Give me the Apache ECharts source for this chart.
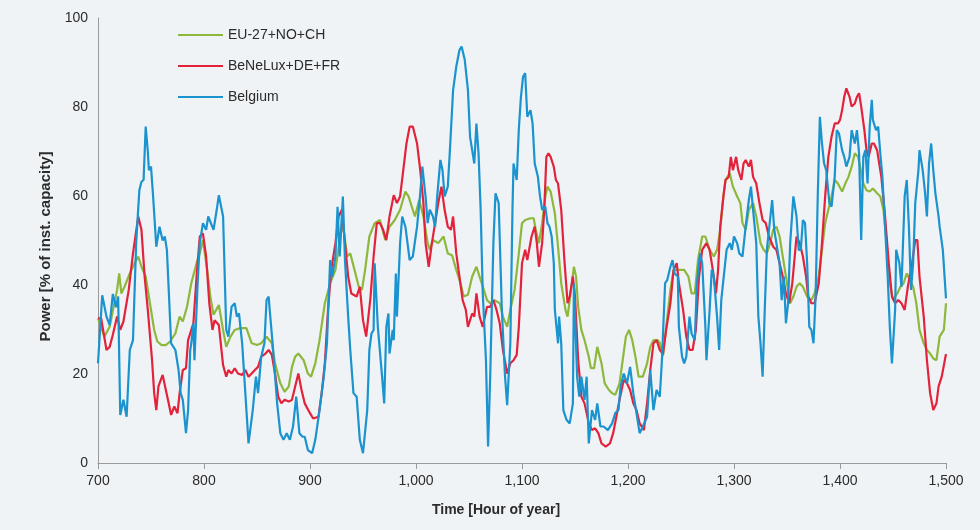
<!DOCTYPE html>
<html>
<head>
<meta charset="utf-8">
<title>Power output, hours 700-1500</title>
<script src="https://cdn.jsdelivr.net/npm/echarts@6/dist/echarts.min.js"></script>
<style>
  html, body { margin: 0; padding: 0; background: #eff3f6; }
  #chart { width: 980px; height: 530px; }
</style>
</head>
<body>
<div id="chart"></div>
<script>
// Hour-of-year tick positions on the time axis
const hourTicks = [700, 800, 900, 1000, 1100, 1200, 1300, 1400, 1500];

// EU-27+NO+CH
const euHours = [700,706,711,716,718,720,722,725,730,735,738,741,745,749,753,756,760,764,768,773,777,780,784,788,793,796,799,803,806,809,814,818,821,
  825,829,834,840,845,850,854,859,864,867,872,876,880,883,886,889,894,898,901,905,909,914,919,924,928,931,935,938,942,946,949,952,956,
  961,966,971,975,980,985,990,993,996,999,1003,1007,1011,1013,1016,1021,1026,1030,1034,1038,1042,1045,1049,1053,1057,1060,1064,1067,1070,1074,1079,1082,1086,1089,1093,
  1097,1100,1103,1108,1111,1113,1116,1119,1122,1124,1127,1131,1134,1137,1141,1143,1145,1149,1151,1153,1156,1159,1163,1165,1168,1171,1175,1178,1182,1185,1188,1192,1195,1198,1201,1204,1207,1210,1214,1218,1221,1224,1228,
  1230,1233,1236,1240,1243,1248,1253,1257,1260,1263,1266,1270,1273,1277,1281,1284,1287,1290,1292,1296,1299,1303,1306,1308,1311,1314,1318,1321,1325,1328,1331,1334,1337,1340,1343,1347,1350,1353,1356,1359,1362,1365,1369,
  1373,1376,1380,1383,1386,1389,1392,1395,1398,1402,1405,1408,1411,1414,1417,1419,1422,1425,1428,1431,1435,1438,1441,1444,1447,1450,1454,1457,1460,1463,1466,1469,1472,1475,1479,1482,1485,1488,1491,1494,1498,1500];
const euPower = [32.5,28.4,30.6,36.6,38.9,42.6,38.1,39.6,42.6,45.2,46.4,44.1,41.9,35.9,29.9,27.3,26.5,26.5,27.3,29.1,32.9,31.8,35.1,40.4,44.9,47.1,50.1,43.4,37.4,33.3,35.5,29.9,26.1,
  28.4,29.9,30.3,30.3,26.9,26.5,26.9,28.4,26.9,22.4,17.9,16,17.2,21.6,23.9,24.6,23.1,20.1,19.4,22.4,27.6,35.9,40.4,43.4,50.1,53.9,46.4,47.1,43.4,39.6,38.9,43.4,50.9,
  53.9,54.6,50.1,53.1,54.6,56.9,61,59.9,57.6,55.4,59.1,55.4,49.4,47.9,50.1,49.4,50.9,47.1,46.7,43.4,40.4,37.4,37.8,41.9,44.1,41.9,38.9,36.6,35.9,36.6,35.9,32.9,30.6,34.4,38.9,
  47.1,53.9,54.6,55,55,52.4,49.4,53.9,59.9,62.1,61,56.1,48.6,40.4,34.4,32.9,36.6,44.1,41.9,35.1,29.9,27.6,23.9,21.3,21.3,26.1,22.4,17.9,16.4,15.7,15.3,17.9,23.1,28.4,29.9,27.6,23.9,19.4,19.4,22.4,26.1,27.6,27.6,
  27,24,30.6,38.9,43.4,43.4,43.4,41.9,38.1,38.1,45.6,50.9,50.9,47.9,46.4,47.9,52.4,59.9,63.6,65.1,62.1,59.9,58.4,53.9,52.4,56.9,58.4,55.4,49.4,47.9,47.1,49.4,52.4,53.1,50.9,44.9,40.4,35.9,37.4,39.6,40.4,39.6,37.4,
  36.6,38.1,41.9,47.9,53.9,56.9,59.9,63.6,62.8,61,62.8,64.3,66.6,69.6,68.8,66.6,62.8,61.3,61,61.7,60.6,59.9,56.9,49.4,40.4,36.6,38.1,39.6,40.4,42.6,41.1,39.6,35.9,29.9,26.9,25.4,24.6,23.5,23.1,28.4,29.9,35.9];

// BeNeLux+DE+FR
const bnlHours = [700,703,708,711,714,718,721,724,729,733,738,741,744,747,751,753,755,757,761,764,766,769,772,775,777,780,783,785,790,793,796,799,802,805,808,810,814,818,821,
  823,826,829,832,836,839,842,845,848,851,854,858,861,864,867,870,873,876,880,883,886,889,892,895,900,903,908,911,914,917,920,924,927,930,933,936,939,944,947,950,953,957,
  960,963,966,969,972,975,979,982,985,988,991,994,997,1001,1004,1007,1009,1012,1015,1018,1021,1024,1027,1030,1033,1035,1038,1041,1044,1047,1049,1053,1055,1057,1060,1063,1067,1070,1073,1076,1079,1082,1086,1089,1092,
  1095,1097,1100,1103,1105,1109,1112,1114,1116,1119,1121,1123,1125,1127,1130,1132,1134,1137,1140,1143,1145,1148,1150,1153,1156,1159,1163,1166,1169,1172,1175,1179,1183,1186,1189,1192,1196,1199,1202,1205,1208,1211,1215,1218,1221,1224,1227,1230,
  1233,1236,1240,1243,1246,1248,1252,1255,1258,1261,1264,1267,1270,1274,1277,1280,1283,1285,1287,1290,1292,1295,1297,1299,1302,1304,1307,1309,1311,1314,1316,1318,1321,1324,1327,1330,1333,1337,1340,1343,1346,1349,1352,1355,1359,1362,1365,1368,
  1370,1373,1376,1380,1383,1386,1389,1392,1395,1398,1400,1402,1404,1406,1409,1411,1414,1416,1418,1420,1423,1425,1427,1430,1432,1435,1437,1439,1442,1446,1449,1452,1455,1458,1461,1464,1468,1471,1473,1475,1479,1482,1485,1488,1491,1493,1496,1500];
const bnlPower = [32.5,32.5,25.4,26.1,28.8,32.9,29.9,31.8,38.9,47.1,55.4,52.4,41.9,34.4,23.1,15.7,11.9,17.2,19.8,16.4,14.2,10.8,12.7,11.2,15.7,20.9,21.3,27.6,31.4,41.9,50.9,51.6,46.4,35.9,29.9,32.1,31,22,19.4,
  20.9,20.1,21.3,20.1,19.8,20.9,19.4,20.1,20.9,21.6,23.9,24.6,25.4,24.3,20.1,14.9,13.4,14.2,13.8,14.2,17.2,20.1,16.4,13.4,11.2,10,10.4,15.7,22.4,34.4,43.4,49.4,55.4,56.9,49.4,41.9,38.1,37.4,39.6,32.1,28.4,37,
  46.4,53.9,53.9,52.4,50.1,55.4,60.2,58.4,59.9,65.8,71.8,75.6,75.6,71.8,65.8,58.4,49.4,44.1,49.4,53.9,58.4,62.1,56.9,53.1,52.4,55.4,47.1,41.9,36.6,34.4,30.6,33.6,32.9,38.1,32.9,30.6,35.1,35.1,36.6,34.4,31.4,25.4,20.1,22.4,23.1,
  24.3,30.6,44.9,47.9,45.6,50.9,53.1,49.4,44.1,49.4,56.9,68.8,69.6,68.8,66.6,63.6,62.8,56.9,45.6,35.9,37.4,41.9,37.4,23.1,14.9,13.4,8.9,7.4,7.8,6.7,4.4,3.7,4.4,6.7,10.4,14.2,18.7,17.9,16.4,13.4,11.9,8.9,7.4,13.4,20.9,26.9,27.6,25.4,
  24.5,29.9,35.9,43.4,44.9,40.4,34.4,28.4,25.4,25.4,29.9,41.9,47.9,49.4,47.9,43.4,38.1,43.4,53.1,59.9,63.6,64.3,68.8,65.8,68.8,65.8,63.6,67.3,68.1,66.6,68.1,64.3,62.8,58.4,54.6,53.9,50.9,48.6,47.9,44.9,41.9,38.1,35.9,40.4,50.9,49.4,46.4,41.9,
  37.4,35.9,35.9,40.4,49.4,59.9,68.8,73.3,76.3,76.3,77.1,79.3,82.3,84.2,82.3,80.1,80.8,82.3,83.1,80.1,74.8,70.3,68.8,71.8,71.8,70.3,67.3,64.3,56.9,44.9,37.4,35.9,36.6,35.9,34.4,39.6,44.9,50.1,50.1,41.9,32.9,23.1,15.7,11.9,13.4,17.2,19.4,24.5];

// Belgium
const beHours = [700,704,708,711,714,717,719,721,724,727,730,733,736,739,741,743,745,747,748,750,752,755,758,761,763,765,769,773,776,778,780,783,785,787,788,790,791,794,796,799,802,804,809,812,814,818,821,
  823,826,829,831,833,836,839,842,846,849,851,854,857,859,861,862,865,869,872,875,878,881,884,887,890,893,895,898,902,905,909,913,916,919,921,924,926,928,931,933,936,938,941,944,947,950,954,956,958,
  960,961,964,968,970,972,974,975,978,979,981,982,985,987,990,992,994,997,1001,1004,1006,1009,1011,1013,1016,1018,1020,1023,1025,1027,1030,1032,1035,1038,1041,1043,1046,1049,1051,1053,1055,1057,1059,1061,1063,1066,1068,1070,1073,1075,1078,1081,1084,1086,1089,1091,1092,1095,
  1097,1099,1101,1103,1105,1108,1110,1112,1115,1117,1119,1122,1124,1126,1128,1130,1131,1134,1135,1137,1139,1142,1145,1148,1149,1152,1154,1156,1159,1161,1163,1166,1169,1171,1174,1177,1181,1185,1188,1191,1193,1196,1199,1202,1205,1208,1211,1214,1218,1221,1224,1227,1230,
  1232,1235,1237,1240,1242,1244,1247,1248,1251,1253,1255,1258,1260,1263,1265,1268,1270,1273,1274,1277,1279,1281,1284,1286,1288,1291,1293,1296,1298,1300,1303,1305,1308,1311,1314,1316,1318,1321,1323,1325,1327,1329,1331,1333,1336,1338,1340,1343,1345,1347,1349,1351,1353,1356,1359,1361,1363,1365,1367,1369,
  1371,1373,1375,1377,1379,1381,1383,1385,1387,1390,1392,1395,1397,1399,1402,1404,1406,1409,1411,1414,1416,1418,1420,1422,1424,1426,1428,1430,1431,1434,1436,1438,1440,1442,1445,1447,1449,1452,1453,1456,1458,1461,1463,1465,1467,1469,1471,1474,1475,1478,1480,1482,1484,1486,1488,1490,1493,1494,1497,1500];
const bePower = [22.4,37.7,32.9,31,38,35,37.4,10.8,14.2,10.4,25.4,27.6,49.4,61.3,63.2,63.6,75.6,70,65.8,66.6,59.9,48.6,53.1,50,50.9,47.9,26.9,25.4,20.9,15.7,14.2,6.7,11.9,25.4,26.9,31.4,23.1,40.4,49.4,53.9,52.4,55.4,52.4,56.9,60.2,55.4,29.9,
  28.4,35.1,35.9,32.9,33.6,26.9,15.7,4.4,11.9,19.4,15.7,23.9,26.9,36.6,37.4,34.4,26.1,13.4,6.7,5.2,6.7,5.2,8.2,14.9,6.7,5.9,5.9,2.9,2.2,5.2,11.9,19.4,26.9,45.6,41.9,46.4,57.6,46.4,59.9,45.6,32.9,25.4,15.7,14.9,5.2,2.2,11.9,25.4,29.1,
  29.9,44.9,30.6,19.4,13.4,30.6,33.6,24.6,29.9,27.6,42.6,32.9,49.4,55.4,53.1,49.4,45.6,46.4,53.1,60.6,66.6,59.9,53.9,56.9,55.4,53.1,59.9,68.1,65.8,59.9,62.1,70.3,83.8,89.1,92.8,93.6,90.6,83.8,73.3,70.3,67.3,76.3,69.6,56.9,38.1,23.1,3.7,19.4,49.4,60.6,58.4,34.4,19.4,13,26.9,56.9,67.3,63.6,
  75,82.3,86.8,87.6,77.8,79.3,76.3,67.3,64.3,59.9,56.9,57.6,53.9,53.1,50.9,44.9,34.4,26.9,32.9,26.9,11.9,9.7,8.9,13.4,40.4,19.4,14.9,19.4,14.2,19.4,4.4,11.9,9.7,13.4,8.2,8.2,7.4,8.9,11.2,11.9,17.2,20.1,17.9,21.6,15.7,11.2,6.7,8.2,10.4,20.9,11.9,16.4,14.9,
  23.1,40.4,41.1,44.1,45.6,42.6,41.9,30.6,23.9,22.4,23.9,32.9,29.1,27.6,40.4,47.1,44.9,30.6,23.1,34.4,43.4,41.9,32.9,25.4,36.6,43.4,47.9,49.4,47.9,50.9,49.4,47.1,46.4,53.1,59.1,62.1,56.9,49.4,32.9,26.9,19.4,34.4,47.9,52.4,59.1,52.4,49.4,44.9,36.6,41.9,31.4,35.9,49.4,59.9,55.4,47.9,47.9,54.6,53.9,44.9,
  30.6,29.9,26.9,37.4,59.9,77.8,71.8,67.3,65.8,58.4,57.6,64.3,74.8,74.1,70.3,68.8,66.6,68.8,74.8,71.8,74.8,69.6,50.1,68.8,70.3,62.8,75.6,81.6,77.1,74.8,75.6,69.6,64.3,55.4,41.9,30.6,22.4,34.4,47.9,44.9,39.6,59.9,63.6,53.1,38.9,44.9,58.4,65.8,70.3,65.8,61.3,55.4,67.3,71.8,65.8,60.6,55.4,53.1,47.9,37];

const zip = (hours, values) => hours.map((h, i) => [h, values[i]]);

const seriesDefs = [
  { name: 'EU-27+NO+CH', hours: euHours, values: euPower, color: '#8db83c' },
  { name: 'BeNeLux+DE+FR', hours: bnlHours, values: bnlPower, color: '#e3223b' },
  { name: 'Belgium', hours: beHours, values: bePower, color: '#1b93cf' }
];

const chart = echarts.init(document.getElementById('chart'), null, { renderer: 'canvas' });
const textColor = '#2b2b2b';
const fontFamily = '"Liberation Sans", Arial, sans-serif';

chart.setOption({
  backgroundColor: '#eff3f6',
  animation: false,
  textStyle: { fontFamily: fontFamily },
  grid: { left: 98, right: 34, top: 18, bottom: 67, containLabel: false },
  legend: {
    orient: 'vertical',
    left: 173,
    top: 23,
    itemWidth: 45,
    itemHeight: 2,
    itemGap: 17,
    icon: 'rect',
    textStyle: { fontSize: 14, color: textColor, fontFamily: fontFamily },
    data: seriesDefs.map(s => s.name)
  },
  xAxis: {
    type: 'value',
    min: hourTicks[0],
    max: hourTicks[hourTicks.length - 1],
    interval: 100,
    name: 'Time [Hour of year]',
    nameLocation: 'middle',
    nameGap: 40,
    nameTextStyle: { fontSize: 14, fontWeight: 'bold', color: textColor, padding: [0, 52, 0, 0] },
    axisLine: { lineStyle: { color: '#9a9a9a', width: 1 } },
    axisTick: { show: true, length: 6, lineStyle: { color: '#9a9a9a' } },
    axisLabel: {
      fontSize: 14,
      color: textColor,
      margin: 11,
      formatter: v => v.toLocaleString('en-US')
    },
    splitLine: { show: false }
  },
  yAxis: {
    type: 'value',
    min: 0,
    max: 100,
    interval: 20,
    name: 'Power [% of inst. capacity]',
    nameLocation: 'middle',
    nameGap: 42,
    nameTextStyle: { fontSize: 15, fontWeight: 'bold', color: textColor, padding: [0, 12, 0, 0] },
    axisLine: { show: true, lineStyle: { color: '#9a9a9a', width: 1 } },
    axisTick: { show: false },
    axisLabel: { fontSize: 14, color: textColor, margin: 10 },
    splitLine: { show: false }
  },
  series: seriesDefs.map(s => ({
    name: s.name,
    type: 'line',
    data: zip(s.hours, s.values),
    showSymbol: false,
    symbol: 'none',
    smooth: false,
    lineStyle: { color: s.color, width: 2.2 },
    itemStyle: { color: s.color }
  }))
});
</script>
</body>
</html>
